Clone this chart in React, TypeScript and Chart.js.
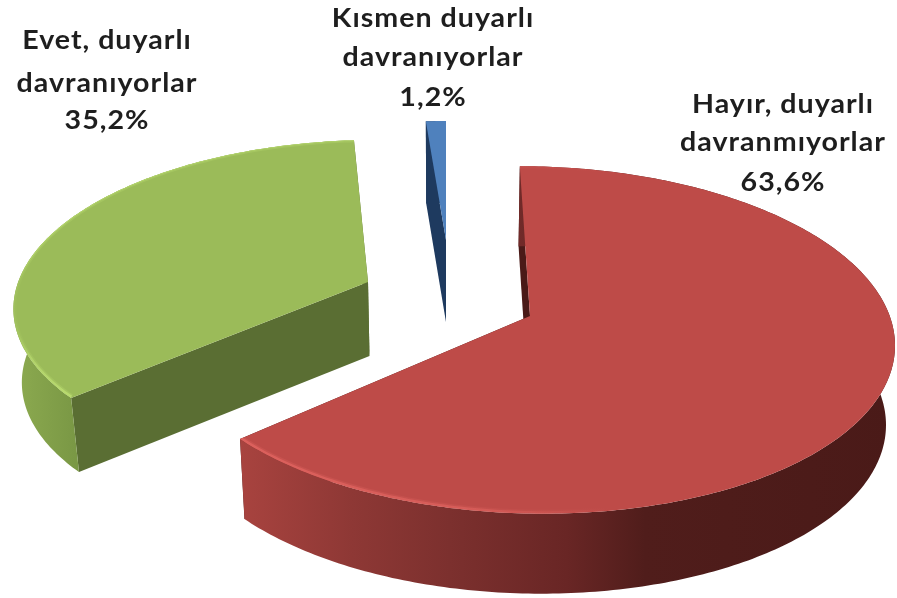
import React, { useEffect, useRef } from "react";
import { Chart, registerables } from "chart.js";

Chart.register(...registerables);

const categories = ["Hayır, duyarlı\ndavranmıyorlar", "Evet, duyarlı\ndavranıyorlar", "Kısmen duyarlı\ndavranıyorlar"];
const percentLabels = ["63,6%", "35,2%", "1,2%"];
const values = [63.6, 35.2, 1.2];
const topColors = ["#BE4B48", "#9BBB59", "#4F81BD"];

// projection of the tilted pie
const VX = 446, VY = 317, RX = 360, RY = 170.7, K = 0.138, M = 0.02;

const sliceLook = [
  {
    apex: [530, 316], radius: 1, depth: 80, cut: "#4A1A18",
    wall: [[0, "#A8433F"], [0.17, "#8E3835"], [0.32, "#7C302E"], [0.5, "#692625"], [0.62, "#501D1B"], [1, "#4A1A18"]],
    wallRange: [241, 893], glow: "222,98,94", glowRange: [241, 610],
  },
  {
    apex: [368, 282], radius: 1, depth: 74, cut: "#5A6E33",
    wall: [[0, "#8DAB50"], [1, "#7A9845"]],
    wallRange: [12, 75], glow: "186,220,112", glowRange: [68, 10],
  },
  {
    apex: [446, 240], radius: 0.883, depth: 82, cut: "#1E3A5F",
    wall: [[0, "#1E3A5F"], [1, "#1E3A5F"]],
    wallRange: [420, 446], glow: "", glowRange: [0, 0],
  },
];
const drawOrder = [1, 2, 0];

const labelSpots = [
  { x: 783, ys: [105, 143, 183] },
  { x: 107, ys: [41, 84, 121] },
  { x: 433, ys: [19, 58, 98] },
];

function project(X: number, Y: number, z: number, depth: number) {
  const wY = 1 - K * Y;
  const wX = wY + M * z;
  return [VX + (RX * X) / wX, VY + (RY * Y) / wY + depth * z];
}

function worldOf(sx: number, sy: number) {
  const d = sy - VY;
  const Y = d / (RY + K * d);
  const X = ((sx - VX) * (1 - K * Y)) / RX;
  return [X, Y];
}

function rimPoints(a0: number, a1: number, ox: number, oy: number, r: number) {
  const pts: number[][] = [];
  const n = Math.max(2, Math.ceil(Math.abs(a1 - a0) / 0.015));
  for (let i = 0; i <= n; i++) {
    const a = a0 + ((a1 - a0) * i) / n;
    pts.push([ox + r * Math.cos(a), oy + r * Math.sin(a)]);
  }
  return pts;
}

function poly(ctx: CanvasRenderingContext2D, pts: number[][]) {
  ctx.beginPath();
  pts.forEach((p, i) => (i ? ctx.lineTo(p[0], p[1]) : ctx.moveTo(p[0], p[1])));
  ctx.closePath();
}

const pie3d = {
  id: "pie3d",
  beforeDatasetDraw(chart: any) {
    const ctx: CanvasRenderingContext2D = chart.ctx;
    const arcs = chart.getDatasetMeta(0).data;
    const colors = chart.data.datasets[0].backgroundColor;
    ctx.save();
    drawOrder.forEach((i) => {
      const arc = arcs[i];
      const look = sliceLook[i];
      const [ox, oy] = worldOf(look.apex[0], look.apex[1]);
      const rim = rimPoints(arc.startAngle, arc.endAngle, ox, oy, look.radius);
      const d = look.depth;
      const top = rim.map((p) => project(p[0], p[1], 0, d));
      const bot = rim.map((p) => project(p[0], p[1], 1, d));
      const a0 = project(ox, oy, 0, d);
      const a1 = project(ox, oy, 1, d);

      // cut faces
      ctx.fillStyle = look.cut;
      poly(ctx, [a0, top[0], bot[0], a1]);
      ctx.fill();
      poly(ctx, [a0, top[top.length - 1], bot[bot.length - 1], a1]);
      ctx.fill();

      // outer wall (back part is hidden by the top face)
      const g = ctx.createLinearGradient(look.wallRange[0], 0, look.wallRange[1], 0);
      look.wall.forEach((s: any) => g.addColorStop(s[0], s[1]));
      ctx.fillStyle = g;
      poly(ctx, [...top, ...bot.slice().reverse()]);
      ctx.fill();

      // top face
      ctx.fillStyle = colors[i];
      poly(ctx, [a0, ...top]);
      ctx.fill();

      // bevel highlight along the front rim: a soft band and a bright core
      if (look.glow) {
        ctx.save();
        poly(ctx, [a0, ...top]);
        ctx.clip();
        [[6, 0.3], [3, 0.9]].forEach(([lw, alpha]) => {
          const hg = ctx.createLinearGradient(look.glowRange[0], 0, look.glowRange[1], 0);
          hg.addColorStop(0, `rgba(${look.glow},${alpha})`);
          hg.addColorStop(0.6, `rgba(${look.glow},${alpha * 0.75})`);
          hg.addColorStop(1, `rgba(${look.glow},0)`);
          ctx.strokeStyle = hg;
          ctx.lineWidth = lw;
          ctx.beginPath();
          top.forEach((p, j) => (j ? ctx.lineTo(p[0], p[1] - 1) : ctx.moveTo(p[0], p[1] - 1)));
          ctx.stroke();
        });
        ctx.restore();
      }
    });
    ctx.restore();
    return false;
  },
  afterDatasetsDraw(chart: any) {
    const ctx: CanvasRenderingContext2D = chart.ctx;
    ctx.fillStyle = "#1e1e1e";
    chart.data.labels.forEach((label: string, i: number) => {
      const lines = [...label.split("\n"), percentLabels[i]];
      lines.forEach((t, j) => {
        ctx.save();
        ctx.font = "700 26px Lato";
        ctx.textAlign = "center";
        ctx.textBaseline = "middle";
        (ctx as any).letterSpacing = "0.9px";
        ctx.translate(labelSpots[i].x, labelSpots[i].ys[j]);
        ctx.scale(1.1, 1);
        ctx.fillText(t, 0, 0);
        ctx.restore();
      });
    });
  },
};

export default function App() {
  const ref = useRef<HTMLCanvasElement>(null);
  useEffect(() => {
    const chart = new Chart(ref.current!, {
      type: "pie",
      data: {
        labels: categories,
        datasets: [{ data: values, backgroundColor: topColors, borderWidth: 0 }],
      },
      options: {
        animation: false,
        responsive: false,
        rotation: 0,
        plugins: { legend: { display: false }, tooltip: { enabled: false } },
      },
      plugins: [pie3d],
    } as any);
    return () => chart.destroy();
  }, []);
  return (
    <div style={{ position: "fixed", left: 0, top: 0, width: 897, height: 598, background: "#fff" }}>
      <canvas ref={ref} width={897} height={598} style={{ display: "block", filter: "blur(0.5px)" }} />
    </div>
  );
}
